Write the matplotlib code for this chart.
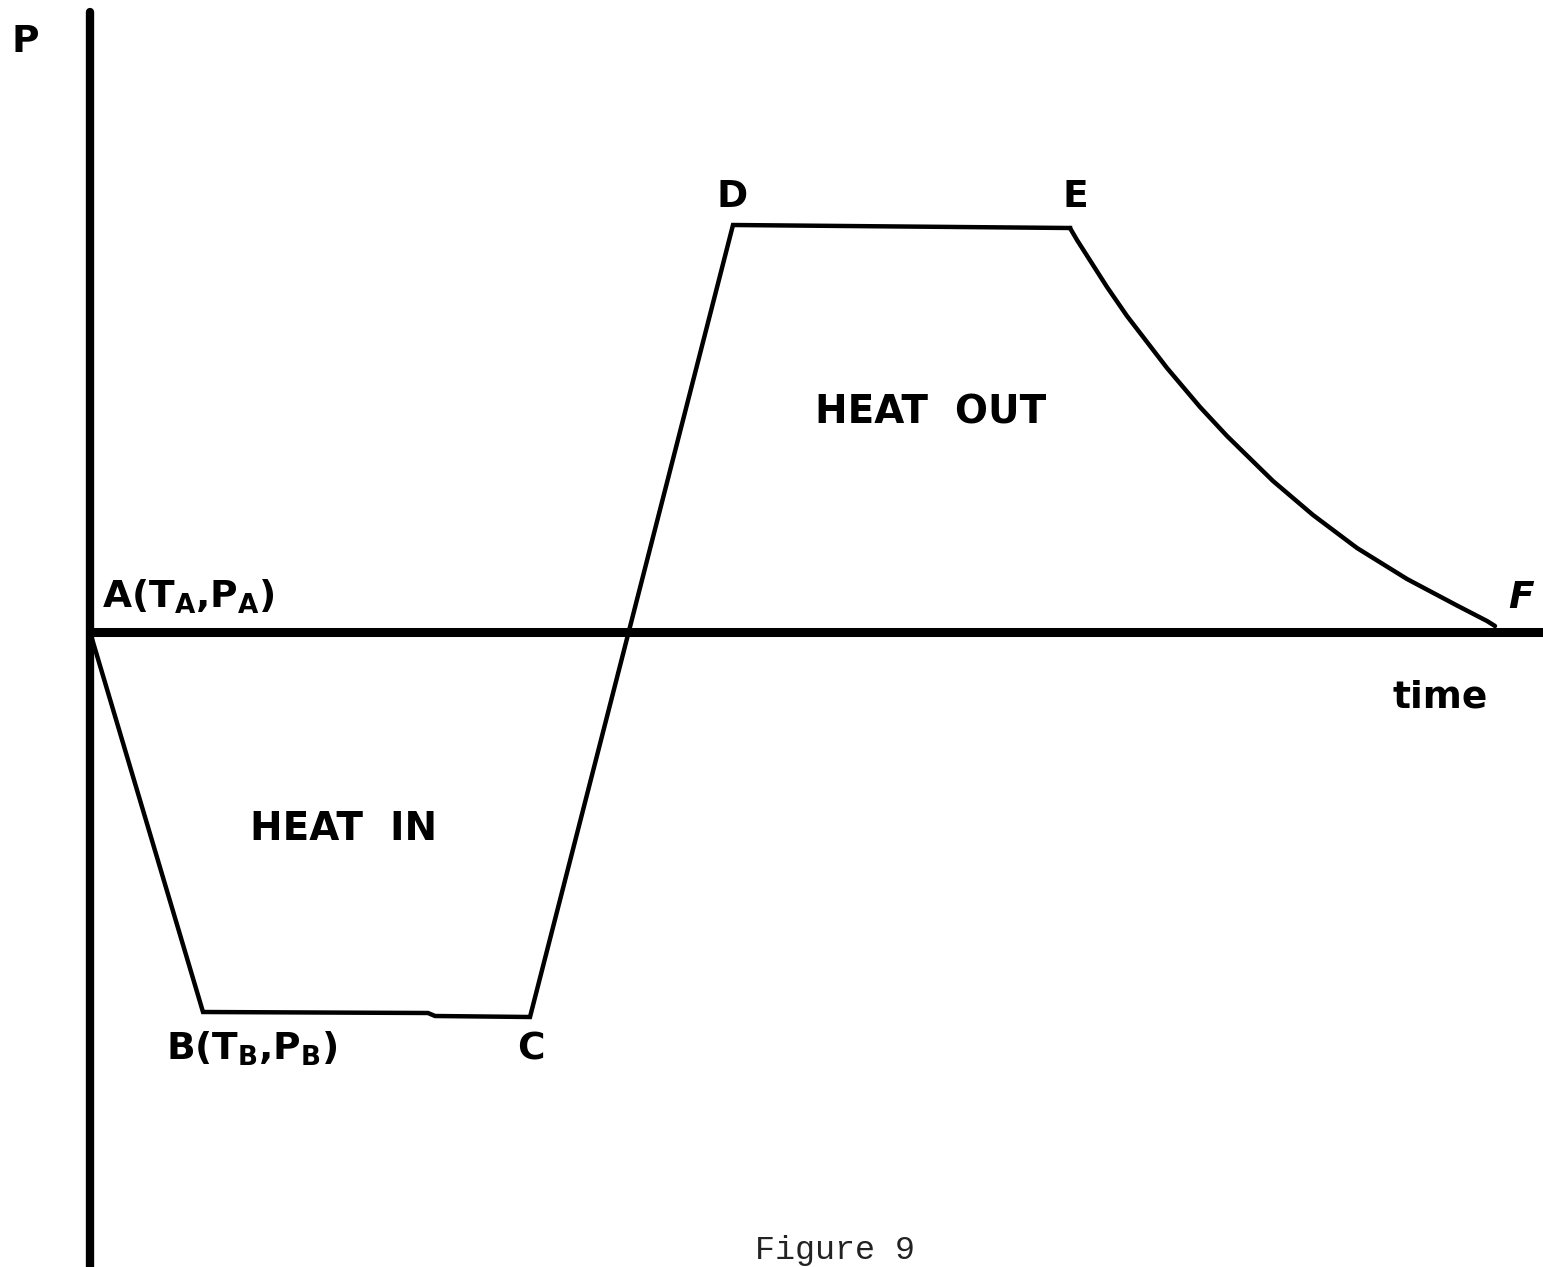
"""Schematic P-time cycle (Figure 9): heat in / heat out."""

import matplotlib.pyplot as plt

# Cycle vertices (time, P), arbitrary units, origin at A
CYCLE_T = [0.0, 1.13, 3.38, 3.45, 4.40, 6.43, 9.80]
CYCLE_P = [0.0, -3.80, -3.81, -3.84, -3.85, 4.07, 4.04]

# Decay from E to F
DECAY_T = [9.80, 9.87, 10.17, 10.37, 10.77, 11.10, 11.37, 11.83,
           12.23, 12.67, 13.17, 13.67, 13.97, 14.05]
DECAY_P = [4.04, 3.92, 3.45, 3.16, 2.64, 2.25, 1.96, 1.51,
           1.17, 0.84, 0.53, 0.265, 0.11, 0.06]

FONT = "DejaVu Sans"

fig = plt.figure(figsize=(15.43, 12.67), dpi=100)
ax = fig.add_axes([0, 0, 1, 1])
ax.set_xlim(-0.9, 14.53)
ax.set_ylim(-6.35, 6.32)
ax.axis("off")

# Axes drawn by hand as thick strokes
ax.plot([0, 0], [6.2, -6.35], color="black", lw=6.0, solid_capstyle="round")
ax.plot([0, 14.53], [0, 0], color="black", lw=6.5, solid_capstyle="butt")

ax.plot(CYCLE_T, CYCLE_P, color="black", lw=3.2, solid_joinstyle="miter")
ax.plot(DECAY_T, DECAY_P, color="black", lw=3.2, solid_capstyle="round",
        solid_joinstyle="round")

txt = dict(fontsize=27, fontweight="bold", family=FONT, color="black")

ax.text(-0.65, 5.80, "P", ha="center", va="baseline", **txt)
ax.text(0.12, 0.24, r"A(T$_\mathregular{A}$,P$_\mathregular{A}$)",
        ha="left", va="baseline", **txt)
ax.text(0.76, -4.28, r"B(T$_\mathregular{B}$,P$_\mathregular{B}$)",
        ha="left", va="baseline", **txt)
ax.text(4.41, -4.28, "C", ha="center", va="baseline", **txt)
ax.text(6.42, 4.25, "D", ha="center", va="baseline", **txt)
ax.text(9.85, 4.25, "E", ha="center", va="baseline", **txt)
ax.text(14.31, 0.24, "F", ha="center", va="baseline",
        fontsize=27, fontweight="bold", family=FONT, style="italic")
ax.text(13.50, -0.76, "time", ha="center", va="baseline", **txt)

ax.text(8.41, 2.09, "HEAT  OUT", ha="center", va="baseline",
        fontsize=28, fontweight="bold", family=FONT)
ax.text(2.54, -2.08, "HEAT  IN", ha="center", va="baseline",
        fontsize=28, fontweight="bold", family=FONT)

ax.text(7.45, -6.27, "Figure 9", ha="center", va="baseline",
        fontsize=24, family="Liberation Mono", color="#222222")

fig.savefig("out.png", dpi=100)
